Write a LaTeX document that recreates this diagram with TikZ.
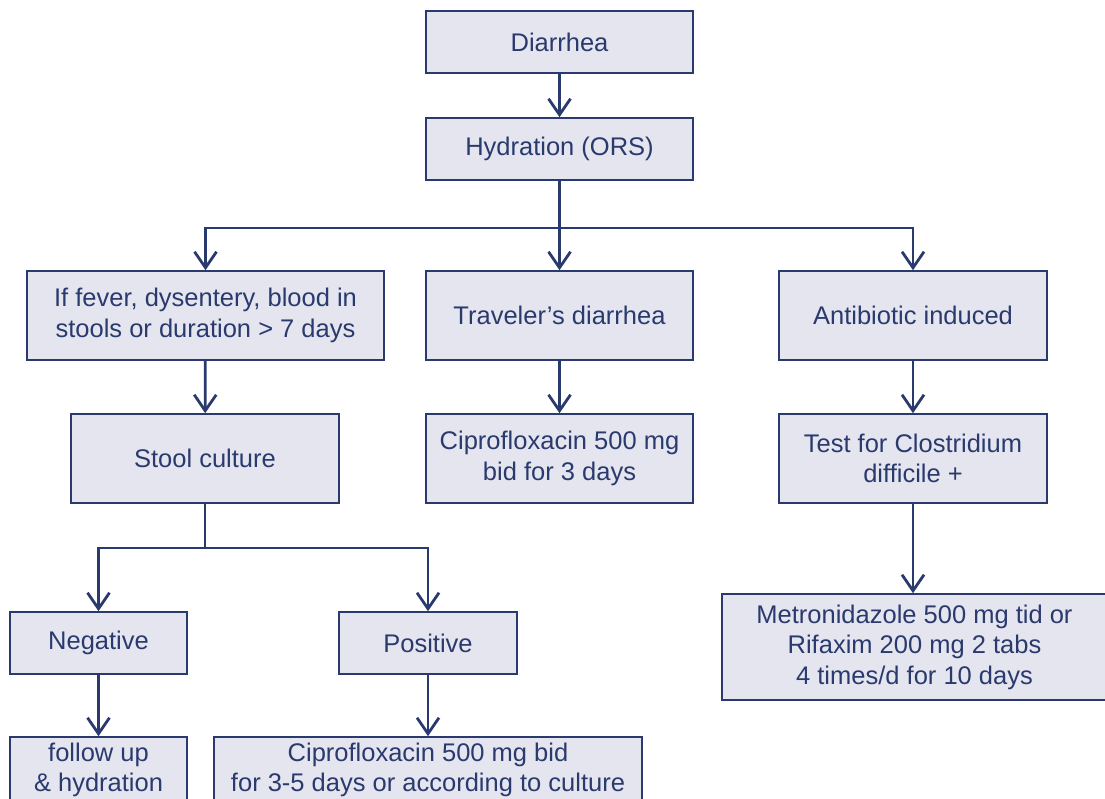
\documentclass[tikz,border=0pt]{standalone}
\usepackage{fontspec}
\setmainfont{Liberation Sans}
\usetikzlibrary{arrows.meta}
\definecolor{navy}{HTML}{2A3A6E}
\definecolor{boxfill}{HTML}{E4E5EE}
\begin{document}
\begin{tikzpicture}[x=1pt,y=-1pt,
  box/.style={draw=navy, line width=1.6pt, fill=boxfill, text=navy,
    font=\fontsize{25.5}{30.5}\selectfont, align=center, inner sep=0pt},
  link/.style={draw=navy, line width=2.8pt},
  arr/.style={link, -{Straight Barb[length=16pt,width=22pt]}}]
\useasboundingbox (0,0) rectangle (1105,798);
\clip (0,0) rectangle (1105,798);

% top of the chart
\node[box, minimum width=267, minimum height=62] (dia) at (559.5,42) {Diarrhea};
\node[box, minimum width=267, minimum height=62] (hyd) at (559.5,149) {Hydration (ORS)};

% three branches
\node[box, minimum width=357, minimum height=89] (fever) at (205.5,315.5)
  {If fever, dysentery, blood in\\stools or duration > 7 days};
\node[box, minimum width=267, minimum height=89] (trav) at (559.5,315.5) {Traveler’s diarrhea};
\node[box, minimum width=268, minimum height=89] (anti) at (913,315.5) {Antibiotic induced};

\node[box, minimum width=268, minimum height=89] (stool) at (205,458.5) {Stool culture};
\node[box, minimum width=267, minimum height=89] (cip3) at (559.5,458.5)
  {Ciprofloxacin 500 mg\\bid for 3 days};
\node[box, minimum width=268, minimum height=89] (test) at (913,458.5)
  {Test for Clostridium\\difficile +};

\node[box, minimum width=385, minimum height=106] (metro) at (914.5,647)
  {Metronidazole 500 mg tid or\\Rifaxim 200 mg 2 tabs\\4 times/d for 10 days};

\node[box, minimum width=177, minimum height=62] (neg) at (98.5,643) {Negative};
\node[box, minimum width=178, minimum height=62] (pos) at (428,643) {Positive};

% bottom row runs past the lower edge
\node[box, minimum width=177, minimum height=66] (fup) at (98.5,770)
  {follow up\\\& hydration};
\node[box, minimum width=428, minimum height=66] (cipb) at (428,770)
  {Ciprofloxacin 500 mg bid\\for 3-5 days or according to culture};

% connectors
\draw[arr] (dia) -- (hyd);
\coordinate (hb) at (559.5,228);
\draw[link] (hyd) -- (hb);
\draw[arr] (hb) -| (fever);
\draw[arr] (hb) -- (trav);
\draw[arr] (hb) -| (anti);

\draw[arr] (fever) -- (stool);
\draw[arr] (trav) -- (cip3);
\draw[arr] (anti) -- (test);
\draw[arr] (test) -- (test.south |- metro.north);

\coordinate (sb) at (205,548);
\draw[link] (stool) -- (sb);
\draw[arr] (sb) -| (neg);
\draw[arr] (sb) -| (pos);

\draw[arr] (neg) -- (fup);
\draw[arr] (pos) -- (cipb);
\end{tikzpicture}
\end{document}
